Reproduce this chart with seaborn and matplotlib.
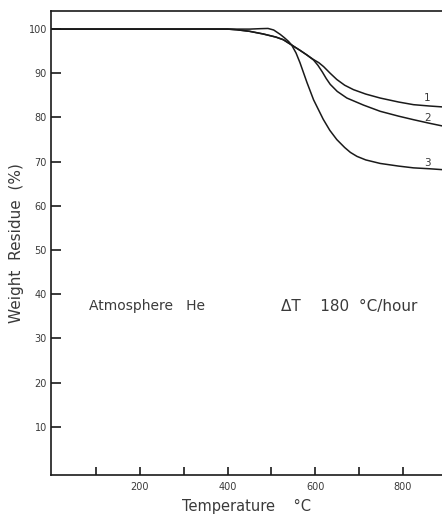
import numpy as np
import pandas as pd
import matplotlib
matplotlib.use("Agg")
import matplotlib.pyplot as plt
import seaborn as sns

# Curve data (Temperature °C, Weight residue %)
t_curve1 = [0, 200, 400, 421, 450, 481, 510, 527, 546, 565, 580, 596, 608, 619, 634, 649, 667, 687, 715, 748, 790, 824, 860, 889]
w_curve1 = [100, 100, 100, 99.85, 99.5, 98.9, 98.2, 97.6, 96.4, 95.2, 94.2, 93.1, 92.4, 91.5, 90.0, 88.6, 87.3, 86.3, 85.3, 84.4, 83.5, 82.9, 82.6, 82.4]
t_curve2 = [0, 200, 400, 421, 450, 481, 510, 527, 546, 565, 580, 596, 606, 616, 625, 634, 650, 672, 710, 748, 790, 824, 860, 889]
w_curve2 = [100, 100, 100, 99.85, 99.5, 98.9, 98.2, 97.6, 96.4, 95.2, 94.2, 93.0, 91.8, 90.3, 88.8, 87.5, 85.9, 84.4, 82.8, 81.4, 80.3, 79.5, 78.7, 78.1]
t_curve3 = [0, 200, 400, 450, 475, 492, 505, 520, 530, 539, 546, 556, 565, 581, 596, 618, 633, 649, 667, 680, 695, 715, 748, 790, 824, 860, 889]
w_curve3 = [100, 100, 100, 100.0, 100.1, 100.15, 99.8, 98.8, 98.0, 97.2, 96.4, 94.6, 92.4, 87.9, 84.0, 79.6, 77.1, 75.0, 73.2, 72.1, 71.2, 70.4, 69.6, 69.0, 68.6, 68.4, 68.2]

curve_names = ["1", "2", "3"]
label_pos_t = [855, 855, 855]
label_pos_w = [84.4, 79.9, 69.8]

x_major_ticks = [200, 400, 600, 800]
x_minor_ticks = [100, 300, 500, 700]
y_ticks = [10, 20, 30, 40, 50, 60, 70, 80, 90, 100]

df = pd.concat([
    pd.DataFrame({"T": t_curve1, "W": w_curve1, "curve": "1"}),
    pd.DataFrame({"T": t_curve2, "W": w_curve2, "curve": "2"}),
    pd.DataFrame({"T": t_curve3, "W": w_curve3, "curve": "3"}),
])

sns.set_style("ticks")
plt.rcParams["font.family"] = ["DejaVu Sans"]

fig = plt.figure(figsize=(4.42, 5.16), dpi=100)
ax = fig.add_axes([0.1154, 0.0795, 0.8846, 0.8992])

sns.lineplot(data=df, x="T", y="W", units="curve", estimator=None,
             color="#1a1a1a", linewidth=1.1, ax=ax, legend=False, sort=False)

txt_color = "#3a3a3a"
for name, tx, wy in zip(curve_names, label_pos_t, label_pos_w):
    ax.text(tx, wy, name, fontsize=7.5, color=txt_color, ha="center", va="center")

ax.text(217, 37.3, "Atmosphere   He", fontsize=10, color=txt_color, ha="center", va="center")
ax.text(677, 37.3, "\u0394T    180  \u00b0C/hour", fontsize=11, color=txt_color, ha="center", va="center")

ax.set_xlim(-3, 889)
ax.set_ylim(-0.9, 104.1)

ax.set_xticks(x_major_ticks)
ax.set_xticklabels([str(v) for v in x_major_ticks])
ax.set_xticks(x_minor_ticks, minor=True)
ax.set_yticks(y_ticks)
ax.set_yticklabels([str(v) for v in y_ticks])

ax.tick_params(axis="both", which="both", direction="in", width=1.2, colors="#1a1a1a",
               labelcolor=txt_color, labelsize=7)
ax.tick_params(axis="x", which="both", length=6, pad=5)
ax.tick_params(axis="y", which="both", length=7, pad=3)

for s in ["left", "bottom", "top"]:
    ax.spines[s].set_visible(True)
    ax.spines[s].set_linewidth(1.2)
    ax.spines[s].set_color("#1a1a1a")
ax.spines["right"].set_visible(False)

ax.set_xlabel("Temperature    \u00b0C", fontsize=10.5, color=txt_color, labelpad=5)
ax.set_ylabel("Weight  Residue  (%)", fontsize=11, color=txt_color, labelpad=3)

fig.savefig("out.png", dpi=100)
